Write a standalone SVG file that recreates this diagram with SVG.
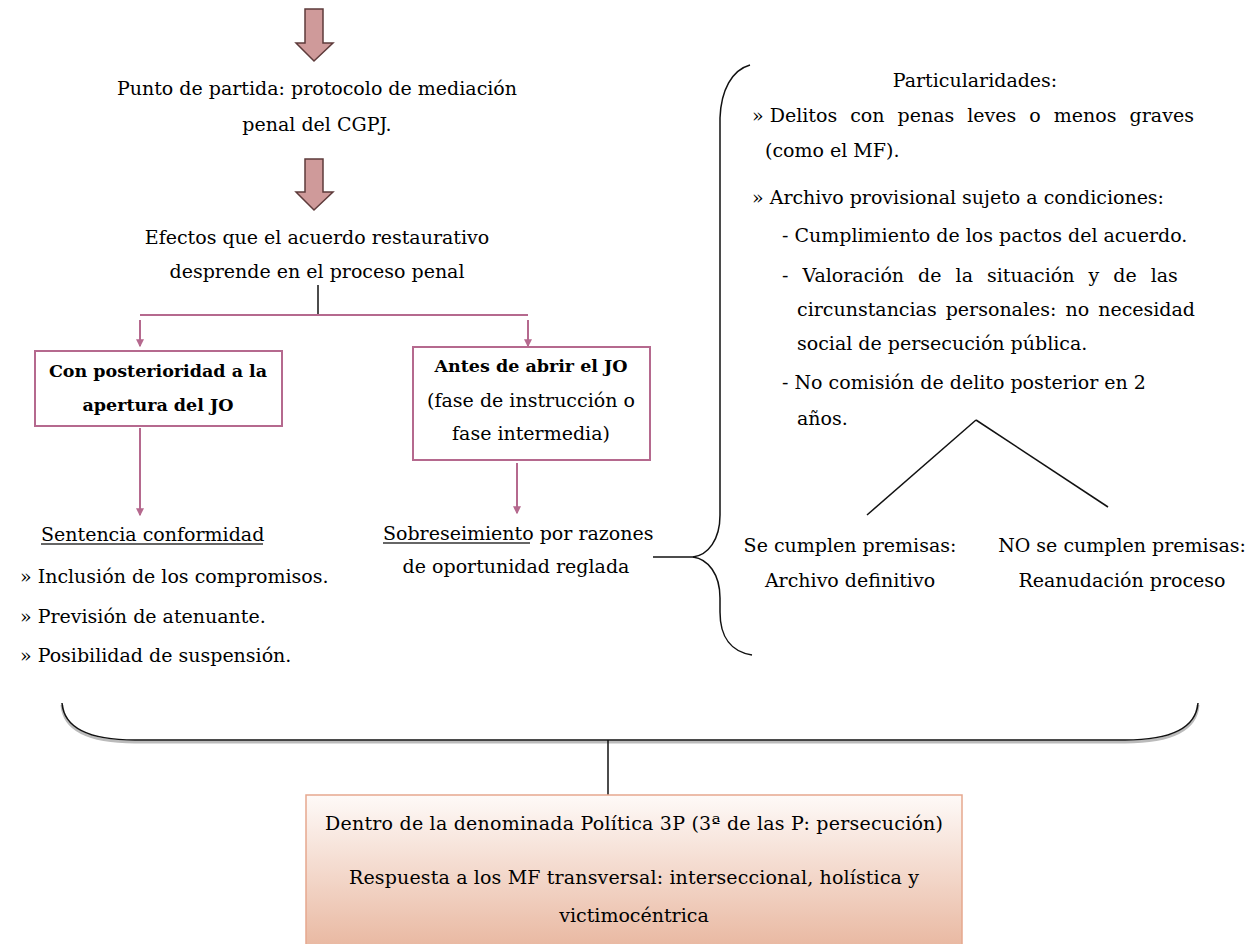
<svg xmlns="http://www.w3.org/2000/svg" width="1256" height="944" viewBox="0 0 1256 944">
<defs>
<style>
text{font-family:"DejaVu Serif","Liberation Serif",serif;font-size:19px;fill:#000;}
.c{text-anchor:middle;}
.b{font-weight:bold;font-size:17.5px;}
.bt{font-size:19px;}
.blk{fill:#cf9a9a;stroke:#5e3b3b;stroke-width:1.5;}
.pk{stroke:#b5698e;stroke-width:2;fill:none;}
.bk{stroke:#111;stroke-width:1.5;fill:none;}
.ul{stroke:#333;stroke-width:1.3;}
</style>
<marker id="ah" viewBox="0 0 6 6" refX="5" refY="3" markerWidth="4" markerHeight="4" orient="auto">
<path d="M0,0 L6,3 L0,6 z" fill="#b5698e"/>
</marker>
<linearGradient id="gr" x1="0" y1="0" x2="0" y2="1">
<stop offset="0" stop-color="#fefaf8"/>
<stop offset="1" stop-color="#e8b59d"/>
</linearGradient>
</defs>

<g id="connectors">
<path class="blk" d="M305,9 L323,9 L323,43 L333,43 L314,61 L296,43 L305,43 Z"/>
<path class="blk" d="M305,159 L323,159 L323,192 L333,192 L314,210 L296,192 L305,192 Z"/>
<line class="bk" x1="318" y1="285" x2="318" y2="315"/>
<line class="pk" x1="140" y1="315" x2="528" y2="315"/>
<line class="pk" x1="140" y1="320" x2="140" y2="346" marker-end="url(#ah)"/>
<line class="pk" x1="528" y1="320" x2="528" y2="346" marker-end="url(#ah)"/>
<line class="pk" x1="140" y1="428" x2="140" y2="515" marker-end="url(#ah)"/>
<line class="pk" x1="517" y1="463" x2="517" y2="513" marker-end="url(#ah)"/>
<line class="bk" x1="653" y1="557" x2="694" y2="557"/>
<path class="bk" d="M750,65 C732,70 721,90 720,118 L720,515 C720,540 708,555 693,557 C708,559 720,574 720,598 L720,612 C720,638 732,652 752,655"/>
<line class="bk" x1="976" y1="420" x2="867" y2="515"/>
<line class="bk" x1="976" y1="420" x2="1108" y2="507"/>
<path d="M62,705 C64,732 92,742 135,742 L1125,742 C1168,742 1196,732 1198,705" fill="none" stroke="#bbb" stroke-width="3"/>
<path class="bk" d="M62,703 C64,728 90,740 135,740 L1125,740 C1170,740 1196,728 1198,703"/>
<line class="bk" x1="608" y1="740" x2="608" y2="795"/>
</g>

<g id="start">
<text class="c" x="317" y="95">Punto de partida: protocolo de mediación</text>
<text class="c" x="317" y="131">penal del CGPJ.</text>
</g>

<g id="efectos">
<text class="c" x="317" y="244">Efectos que el acuerdo restaurativo</text>
<text class="c" x="317" y="278">desprende en el proceso penal</text>
</g>

<g id="box-posterioridad">
<rect x="35" y="351" width="247" height="75" fill="#fff" stroke="#b5698e" stroke-width="2"/>
<text class="c b" x="158" y="377">Con posterioridad a la</text>
<text class="c b" x="158" y="411">apertura del JO</text>
</g>

<g id="box-antes">
<rect x="413" y="347" width="237" height="113" fill="#fff" stroke="#b5698e" stroke-width="2"/>
<text class="c b" x="531" y="372">Antes de abrir el JO</text>
<text class="c" x="531" y="407">(fase de instrucción o</text>
<text class="c" x="531" y="440">fase intermedia)</text>
</g>

<g id="sentencia">
<text x="41" y="541">Sentencia conformidad</text>
<line class="ul" x1="41" y1="544" x2="263" y2="544"/>
<text x="20" y="583">» Inclusión de los compromisos.</text>
<text x="20" y="623">» Previsión de atenuante.</text>
<text x="20" y="662">» Posibilidad de suspensión.</text>
</g>

<g id="sobreseimiento">
<text x="383" y="540">Sobreseimiento por razones</text>
<line class="ul" x1="383" y1="543" x2="530" y2="543"/>
<text class="c" x="516" y="573">de oportunidad reglada</text>
</g>

<g id="particularidades">
<text class="c" x="975" y="87">Particularidades:</text>
<text x="752" y="122">» <tspan word-spacing="7">Delitos con penas leves o menos graves</tspan></text>
<text x="765" y="157">(como el MF).</text>
<text x="752" y="204">» Archivo provisional sujeto a condiciones:</text>
<text x="782" y="242">- Cumplimiento de los pactos del acuerdo.</text>
<text x="782" y="282" word-spacing="8">- Valoración de la situación y de las</text>
<text x="797" y="316" word-spacing="3">circunstancias personales: no necesidad</text>
<text x="797" y="350">social de persecución pública.</text>
<text x="782" y="389">- No comisión de delito posterior en 2</text>
<text x="797" y="425">años.</text>
</g>

<g id="se-cumplen">
<text class="c" x="850" y="552">Se cumplen premisas:</text>
<text class="c" x="850" y="587">Archivo definitivo</text>
</g>

<g id="no-se-cumplen">
<text class="c" x="1122" y="552">NO se cumplen premisas:</text>
<text class="c" x="1122" y="587">Reanudación proceso</text>
</g>

<g id="politica">
<rect x="306" y="795" width="656" height="160" fill="url(#gr)" stroke="#e6a88e" stroke-width="1.5"/>
<text class="c bt" x="634" y="830" textLength="618">Dentro de la denominada Política 3P (3ª de las P: persecución)</text>
<text class="c bt" x="634" y="884" textLength="570">Respuesta a los MF transversal: interseccional, holística y</text>
<text class="c bt" x="634" y="922">victimocéntrica</text>
</g>
</svg>
